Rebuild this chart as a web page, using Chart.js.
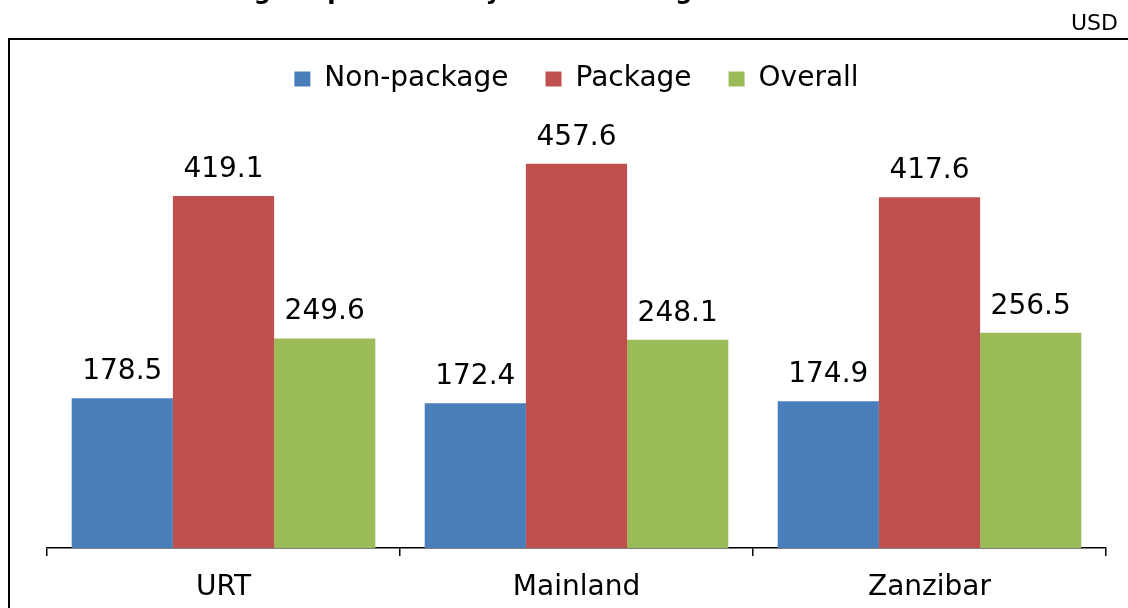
<!DOCTYPE html>
<html>
<head>
<meta charset="utf-8">
<script src="https://cdn.jsdelivr.net/npm/chart.js@4"></script>
<style>
  html, body { margin: 0; padding: 0; background: #fff; }
  #wrap { width: 1128px; height: 608px; position: relative; }
</style>
</head>
<body>
<div id="wrap"><canvas id="chart"></canvas></div>
<script>
  var categories = ["URT", "Mainland", "Zanzibar"];
  var nonPackage = [178.5, 172.4, 174.9];
  var packageVals = [419.1, 457.6, 417.6];
  var overall = [249.6, 248.1, 256.5];
  var titleText = "Average Expenditure by Travel Arrangement";
  var unitText = "USD";

  var FONT = "'DejaVu Sans', sans-serif";

  Chart.defaults.font.family = FONT;
  Chart.defaults.color = "#000";

  // frame, cut-off title and unit label
  var framePlugin = {
    id: "frame",
    beforeDraw: function (chart) {
      var ctx = chart.ctx;
      ctx.save();
      ctx.fillStyle = "#fff";
      ctx.fillRect(0, 0, chart.width, chart.height);
      ctx.strokeStyle = "#000";
      ctx.lineWidth = 2;
      ctx.strokeRect(9, 39, 3000, 3000);
      ctx.fillStyle = "#000";
      ctx.font = "bold 24px " + FONT;
      ctx.textAlign = "left";
      ctx.textBaseline = "alphabetic";
      ctx.fillText(titleText, 176, -1);
      ctx.font = "22px " + FONT;
      ctx.textAlign = "right";
      ctx.fillText(unitText, 1118, 30);
      ctx.restore();
    },
  };

  var valueLabels = {
    id: "valueLabels",
    afterDatasetsDraw: function (chart) {
      var ctx = chart.ctx;
      ctx.save();
      ctx.fillStyle = "#000";
      ctx.font = "28px " + FONT;
      ctx.textAlign = "center";
      ctx.textBaseline = "alphabetic";
      chart.data.datasets.forEach(function (ds, i) {
        chart.getDatasetMeta(i).data.forEach(function (bar, j) {
          ctx.fillText(ds.data[j].toFixed(1), bar.x, bar.y - 19);
        });
      });
      ctx.restore();
    },
  };

  new Chart(document.getElementById("chart"), {
    type: "bar",
    data: {
      labels: categories,
      datasets: [
        { label: "Non-package", data: nonPackage, backgroundColor: "#4a7ebb", borderWidth: 0 },
        { label: "Package", data: packageVals, backgroundColor: "#c0504d", borderWidth: 0 },
        { label: "Overall", data: overall, backgroundColor: "#9bbb59", borderWidth: 0 },
      ],
    },
    options: {
      responsive: true,
      maintainAspectRatio: false,
      animation: false,
      datasets: { bar: { categoryPercentage: 0.86, barPercentage: 1.0 } },
      layout: { padding: { left: 47, right: 22, top: 28, bottom: 0 } },
      plugins: {
        legend: {
          position: "top",
          labels: {
            boxWidth: 16,
            boxHeight: 15,
            padding: 37,
            color: "#000",
            font: { size: 28 },
          },
        },
        tooltip: { enabled: false },
      },
      scales: {
        x: {
          afterFit: function (scale) { scale.height = 60; },
          grid: { drawOnChartArea: false, drawTicks: true, tickLength: 8, color: "#000", lineWidth: 1.5 },
          border: { display: true, color: "#000", width: 1.5 },
          ticks: { color: "#000", font: { size: 28 }, padding: 15 },
        },
        y: {
          display: false,
          min: 0,
          max: 530,
        },
      },
    },
    plugins: [framePlugin, valueLabels],
  });
</script>
</body>
</html>
